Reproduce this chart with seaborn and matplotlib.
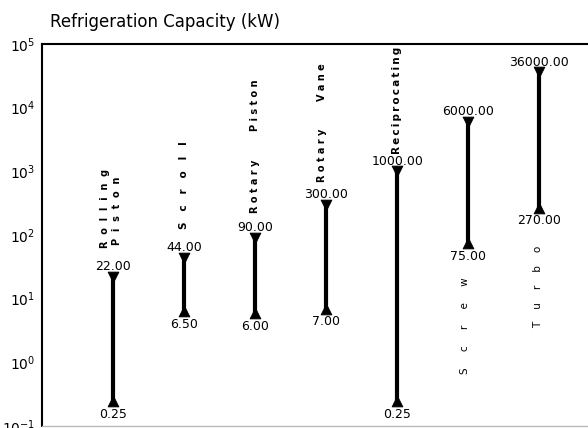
import matplotlib
matplotlib.use("Agg")
import matplotlib.pyplot as plt
import seaborn as sns
import pandas as pd
import numpy as np

# ---- data ----
compressors = ["Rolling Piston", "Scroll", "Rotary Piston", "Rotary Vane",
               "Reciprocating", "Screw", "Turbo"]
min_kw = [0.25, 6.50, 6.00, 7.00, 0.25, 75.00, 270.00]
max_kw = [22.00, 44.00, 90.00, 300.00, 1000.00, 6000.00, 36000.00]
ytick_exponents = [-1, 0, 1, 2, 3, 4, 5]
title = "Refrigeration Capacity (kW)"

TS = "\u2009"  # thin space
# label text pieces (rotated): text, x offset, vertical centre (log10 kW), size, weight
label_parts = [
    [("R  o  l  l  i  n  g", -0.12, 2.42, 7, "bold"),
     ("P  i  s  t  o  n", 0.05, 2.38, 7, "bold")],
    [("S   c   r   o   l   l", 0.0, 2.78, 7.5, "bold")],
    [("R o t a r y", 0.0, 2.77, 7, "bold"), ("P i s t o n", 0.0, 4.04, 7, "bold")],
    [("R o t a r y", -0.06, 3.25, 7, "bold"), ("V a n e", -0.06, 4.40, 7, "bold")],
    [(TS.join("Reciprocating"), 0.0, 4.12, 7.5, "bold")],
    [("S     c     r     e     w", -0.04, 0.57, 7.5, "normal")],
    [("T    u    r    b    o", -0.02, 1.18, 7.5, "normal")],
]

sns.set_theme(style="white")
plt.rcParams["font.family"] = ["DejaVu Sans"]

fig = plt.figure(figsize=(5.88, 4.28), dpi=100)
ax = fig.add_axes([42 / 588, 2 / 428, 1 - 42 / 588 + 0.02, (426 - 44) / 428])

pos = np.arange(len(compressors))
df_lines = pd.DataFrame({
    "pos": np.concatenate([pos, pos]),
    "kw": min_kw + max_kw,
    "cat": compressors + compressors,
})
sns.lineplot(data=df_lines, x="pos", y="kw", units="cat", estimator=None,
             sort=False, color="black", linewidth=3.0, ax=ax, legend=False)

df_max = pd.DataFrame({"pos": pos, "kw": max_kw})
df_min = pd.DataFrame({"pos": pos, "kw": min_kw})
sns.scatterplot(data=df_max, x="pos", y="kw", marker="v", s=60, color="black",
                edgecolor="black", ax=ax, legend=False, zorder=3)
sns.scatterplot(data=df_min, x="pos", y="kw", marker="^", s=60, color="black",
                edgecolor="black", ax=ax, legend=False, zorder=3)

ax.set_yscale("log")
ax.set_ylim(0.1, 1e5)
ax.set_xlim(-1, 6.85)

for p, lo, hi in zip(pos, min_kw, max_kw):
    ax.annotate(f"{hi:.2f}", (p, hi), xytext=(0, 2.5), textcoords="offset points",
                ha="center", va="bottom", fontsize=9, color="black")
    ax.annotate(f"{lo:.2f}", (p, lo), xytext=(0, -5), textcoords="offset points",
                ha="center", va="top", fontsize=9, color="black")

for p, parts in zip(pos, label_parts):
    for txt, dx, ly, fs, fw in parts:
        ax.text(p + dx, 10 ** ly, txt, rotation=90, ha="center", va="center",
                fontsize=fs, fontweight=fw, color="black")

ax.set_yticks([10.0 ** e for e in ytick_exponents])
ax.set_yticklabels([f"$10^{{{e}}}$" for e in ytick_exponents])
ax.yaxis.set_minor_locator(matplotlib.ticker.NullLocator())
ax.tick_params(axis="y", length=0, labelsize=10, pad=5, colors="black")
ax.set_xticks([])
ax.set_xlabel("")
ax.set_ylabel("")

for s in ["left", "top"]:
    ax.spines[s].set_color("black")
    ax.spines[s].set_linewidth(1.5)
ax.spines["right"].set_visible(False)
ax.spines["bottom"].set_color("#bbbbbb")
ax.spines["bottom"].set_linewidth(1.0)

fig.text(50 / 588, 1 - 22 / 428, title, ha="left", va="center", fontsize=12,
         color="black")

fig.savefig("out.png", dpi=100)
